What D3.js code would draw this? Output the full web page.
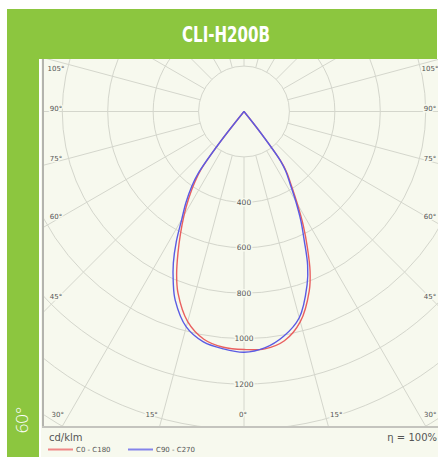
<!DOCTYPE html>
<html><head><meta charset="utf-8">
<script src="https://cdn.jsdelivr.net/npm/d3@7"></script>
<style>body{margin:0;background:#fff}svg{display:block}</style>
</head><body><svg id="c" width="438" height="457"></svg>
<script>
// ---- data ----
const title = "CLI-H200B";
const sideLabel = "60°";
const unitLabel = "cd/klm";
const effLabel = "η = 100%";
const angles = [0, 5, 10, 15, 20, 22.5, 25, 27.5, 30, 32.5, 35, 36.5, 38, 40];   // degrees from nadir
const c0   = [1048, 1049, 1025, 958, 840, 760, 660, 565, 470, 390, 328, 275, 125, 0];  // right half, red
const c180 = [1048, 1042, 1018, 958, 850, 775, 688, 605, 528, 452, 375, 320, 170, 0];  // left half, red
const c90  = [1060, 1045, 1005, 940, 812, 732, 628, 542, 455, 378, 320, 270, 120, 0];  // right half, blue
const c270 = [1060, 1049, 1030, 982, 885, 814, 736, 645, 548, 476, 399, 340, 180, 0];  // left half, blue
const seriesNames = ["C0 - C180", "C90 - C270"];
const gridValues = [200, 400, 600, 800, 1000, 1200, 1400, 1600];
const radialTicks = [400, 600, 800, 1000, 1200];
const sideAngleLabels = [45, 60, 75, 90, 105];
const bottomAngleLabels = [0, 15, 30];

// ---- layout ----
const W = 438, H = 457;
const green = "#8cc63f", bg = "#f7f9ee", gridC = "#d4d6cc", txtC = "#555";
const cx = 244, cy = 111.5;
const plot = {x0: 44, x1: 438, y0: 59, y1: 426};
const r = d3.scaleLinear().domain([0, 1400]).range([0, 318]);
const rad = d => d * Math.PI / 180;

const svg = d3.select("#c");
svg.append("rect").attr("x", 41).attr("y", 59).attr("width", W - 41).attr("height", H - 59).attr("fill", bg);
// header
svg.append("rect").attr("x", 7).attr("y", 9).attr("width", 430).attr("height", 50).attr("fill", green);
svg.append("rect").attr("x", 7).attr("y", 59).attr("width", 32).attr("height", H - 59).attr("fill", green);
svg.append("text").attr("x", 226).attr("y", 41.5).attr("text-anchor", "middle")
  .attr("font-family", "'Liberation Sans Narrow','DejaVu Sans Condensed','Roboto Condensed',sans-serif")
  .attr("font-weight", "bold").attr("font-size", 22).attr("fill", "#fff")
  .attr("textLength", 88).attr("lengthAdjust", "spacingAndGlyphs").text(title);
svg.append("text").attr("transform", "translate(28,420) rotate(-90)").attr("text-anchor", "middle")
  .attr("font-family", "'Open Sans','DejaVu Sans',sans-serif").attr("font-weight", 300).attr("font-size", 17).attr("fill", "#fff")
  .text(sideLabel);

// plot area
svg.append("clipPath").attr("id", "clip").append("rect")
  .attr("x", plot.x0).attr("y", plot.y0).attr("width", plot.x1 - plot.x0).attr("height", plot.y1 - plot.y0);
const g = svg.append("g").attr("clip-path", "url(#clip)");
const gc = g.append("g").attr("transform", `translate(${cx},${cy})`);

gc.selectAll("circle.grid").data(gridValues).join("circle").attr("class", "grid")
  .attr("r", d => r(d)).attr("fill", "none").attr("stroke", gridC).attr("stroke-width", 1);
gc.selectAll("line.ray").data(d3.range(0, 360, 15)).join("line").attr("class", "ray")
  .attr("x1", d => r(200) * Math.sin(rad(d))).attr("y1", d => r(200) * Math.cos(rad(d)))
  .attr("x2", d => r(3000) * Math.sin(rad(d))).attr("y2", d => r(3000) * Math.cos(rad(d)))
  .attr("stroke", gridC).attr("stroke-width", 1);

// curves
const radial = d3.lineRadial().angle(d => d[0]).radius(d => r(d[1])).curve(d3.curveCatmullRom.alpha(0.5));
function pts(right, left) {
  const L = angles.map((a, i) => [Math.PI + rad(a), left[i]]).reverse();
  const R = angles.map((a, i) => [Math.PI - rad(a), right[i]]).slice(1);
  return L.concat(R);
}
const curves = [
  {name: seriesNames[0], right: c0, left: c180, color: "#e95f5f"},
  {name: seriesNames[1], right: c90, left: c270, color: "#5b5be3"}
];
gc.selectAll("path.curve").data(curves).join("path").attr("class", "curve")
  .attr("d", d => radial(pts(d.right, d.left))).attr("fill", "none")
  .attr("stroke", d => d.color).attr("stroke-width", 1.4).attr("stroke-linejoin", "round");

// radial tick labels
gc.selectAll("text.rt").data(radialTicks).join("text").attr("class", "rt")
  .attr("x", 0).attr("y", d => r(d)).attr("dy", "0.35em").attr("text-anchor", "middle")
  .attr("font-family", "'DejaVu Sans',sans-serif").attr("font-size", 7.5).attr("fill", txtC)
  .attr("stroke", bg).attr("stroke-width", 3).attr("paint-order", "stroke").text(d => d);

// angle labels
const lab = [];
sideAngleLabels.forEach(a => {
  const dx = cx - 56, y = Math.max(69, cy + dx * Math.cos(rad(a)) / Math.sin(rad(a)) - 3);
  lab.push({t: a + "°", x: 56, y});
  lab.push({t: a + "°", x: 430, y});
});
bottomAngleLabels.forEach(a => {
  const dx = (415 - cy) * Math.tan(rad(a)) + (a ? 11 : 0);
  lab.push({t: a + "°", x: cx - dx - (a ? 0 : 1), y: 415});
  if (a) lab.push({t: a + "°", x: cx + dx, y: 415});
});
g.selectAll("text.al").data(lab).join("text").attr("class", "al")
  .attr("x", d => d.x).attr("y", d => d.y).attr("dy", "0.35em").attr("text-anchor", "middle")
  .attr("font-family", "'DejaVu Sans',sans-serif").attr("font-size", 7).attr("fill", txtC)
  .attr("stroke", bg).attr("stroke-width", 3).attr("paint-order", "stroke").text(d => d.t);

// borders
svg.append("line").attr("x1", 43).attr("x2", 43).attr("y1", 59).attr("y2", 428).attr("stroke", "#b4b4ae").attr("stroke-width", 2);
svg.append("line").attr("x1", 42).attr("x2", W).attr("y1", 427).attr("y2", 427).attr("stroke", "#c4c4be").attr("stroke-width", 2);

// bottom texts & legend
svg.append("text").attr("x", 49).attr("y", 441).attr("font-family", "'DejaVu Sans',sans-serif")
  .attr("font-size", 10).attr("fill", txtC).text(unitLabel);
svg.append("text").attr("x", 437).attr("y", 441).attr("text-anchor", "end").attr("font-family", "'DejaVu Sans',sans-serif")
  .attr("font-size", 10).attr("fill", txtC).text(effLabel);
const leg = svg.selectAll("g.leg").data(curves).join("g").attr("class", "leg")
  .attr("transform", (d, i) => `translate(${48 + i * 80},449.5)`);
leg.append("line").attr("x1", 0).attr("x2", 25).attr("stroke", d => d3.interpolateRgb(d.color, "#fff")(0.25)).attr("stroke-width", 2);
leg.append("text").attr("x", 28).attr("dy", "0.35em").attr("font-family", "'DejaVu Sans',sans-serif")
  .attr("font-size", 7).attr("fill", txtC).text(d => d.name);
</script></body></html>
